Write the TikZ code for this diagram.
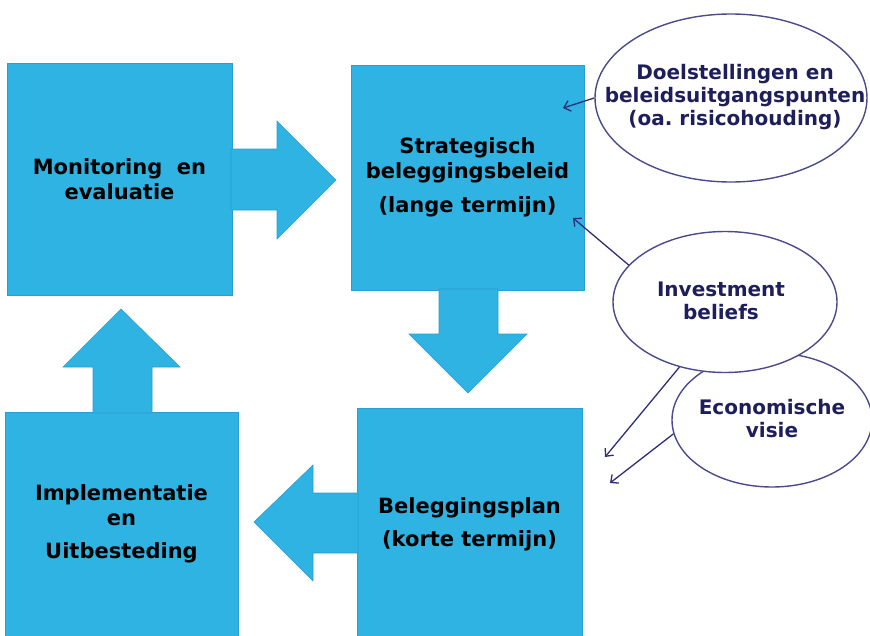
\documentclass[tikz,border=0pt]{standalone}
\usepackage{fontspec}
\setmainfont{DejaVu Sans}
\usetikzlibrary{arrows.meta,shapes.geometric}
\definecolor{boxblue}{HTML}{2EB3E2}
\definecolor{boxedge}{HTML}{2A9ED0}
\definecolor{navy}{HTML}{1E1E5A}
\definecolor{lineclr}{HTML}{4A4A8C}
\definecolor{ptrclr}{HTML}{2E2E78}
\frenchspacing
\begin{document}
\begin{tikzpicture}[x=1pt,y=-1pt,
  sq/.style={rectangle,fill=boxblue,draw=boxedge,line width=0.6pt,inner sep=0pt,align=center,text=black,font=\fontsize{21}{25}\selectfont\bfseries},
  barrow/.style={fill=boxblue,draw=boxedge,line width=0.6pt},
  bubble/.style={ellipse,draw=lineclr,line width=1.4pt,fill=white,inner sep=0pt},
  bubtext/.style={inner sep=0pt,align=center,text=navy,font=\fontsize{20}{23}\selectfont\bfseries},
  pointer/.style={draw=ptrclr,line width=1.3pt,-{Straight Barb[length=6pt,width=11pt]}}]
\useasboundingbox (0,0) rectangle (870,635);
\clip (0,0) rectangle (870,635);
% squares
\node[sq,minimum width=225pt,minimum height=232pt] (mon) at (119.5,179) {Monitoring\ \ en\\evaluatie};
\node[sq,minimum width=233pt,minimum height=225pt] (str) at (467.5,177.5) {Strategisch\\beleggingsbeleid\\[9pt](lange termijn)};
\node[sq,minimum width=225pt,minimum height=232pt] (plan) at (469.5,524) {Beleggingsplan\\[8pt](korte termijn)};
\node[sq,minimum width=233pt,minimum height=224pt] (impl) at (121.5,524) {Implementatie\\en\\[8pt]Uitbesteding};
% block arrows
\path[barrow] (231,149) -- (277,149) -- (277,121) -- (336,180) -- (277,239) -- (277,210) -- (231,210) -- cycle;
\path[barrow] (439,289) -- (439,334) -- (409,334) -- (468,393) -- (527,334) -- (498,334) -- (498,289) -- cycle;
\path[barrow] (358,493) -- (313,493) -- (313,465) -- (254,522) -- (313,581) -- (313,553) -- (358,553) -- cycle;
\path[barrow] (93,413) -- (93,367) -- (63,367) -- (121,309) -- (180,367) -- (152,367) -- (152,413) -- cycle;
% ellipses
\node[bubble,minimum width=272pt,minimum height=168pt] (doel) at (731,98) {};
\node[bubble,minimum width=200pt,minimum height=134pt] (vis) at (772,420) {};
\node[bubble,minimum width=224pt,minimum height=141pt] (inv) at (725,302) {};
\node[bubtext] (doeltxt) at (735,97) {Doelstellingen en\\beleidsuitgangspunten\\(oa.\ risicohouding)};
\node[bubtext] (vistxt) at (772,419) {Economische\\visie};
\node[bubtext] (invtxt) at (721,301) {Investment\\beliefs};
% pointers
\coordinate (t1) at (563,108);
\coordinate (t2) at (573,218);
\coordinate (t3) at (605,457);
\coordinate (t4) at (610,483);
\draw[pointer] (doel.west) -- (t1);
\draw[pointer] (inv.159) -- (t2);
\draw[pointer] (inv.235) -- (t3);
\draw[pointer] (vis.188) -- (t4);
\end{tikzpicture}
\end{document}
